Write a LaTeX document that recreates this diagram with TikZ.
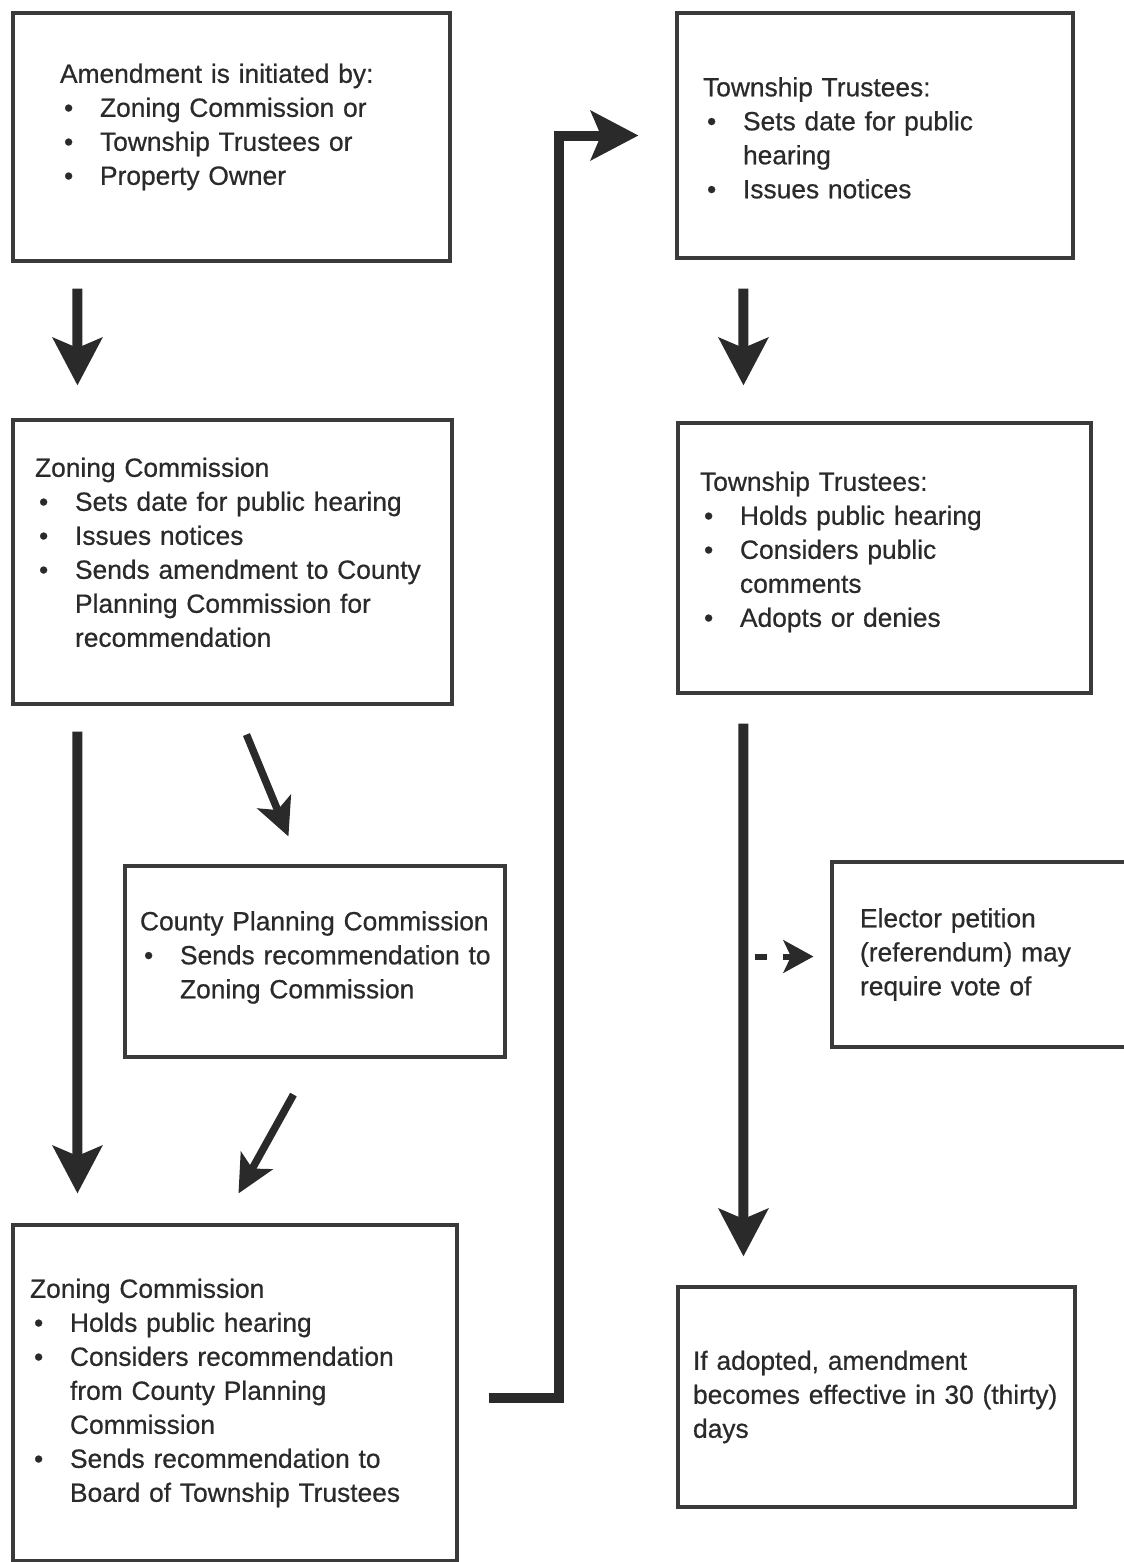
\documentclass[tikz,border=0pt]{standalone}
\usepackage{fontspec}
\setsansfont{Liberation Sans}[FakeBold=0.6]
\usepackage{xcolor}
\definecolor{inkColor}{HTML}{2A2A2A}
\definecolor{boxColor}{HTML}{3A3A3A}
\usepackage{tikz}
\usetikzlibrary{arrows.meta, positioning, calc}
\newcommand{\bulitem}{\hspace*{0.08cm}\makebox[0.72cm][l]{\textbullet}}
\newcommand{\bulind}{\hspace*{0.8cm}}
\newcommand{\liftby}[2]{\raisebox{#1}[\height][\depth]{#2}}

\begin{document}
\begin{tikzpicture}[x=0.02cm, y=-0.02cm, font=\sffamily\fontsize{15pt}{19.35pt}\selectfont,
    stagebox/.style={draw=boxColor, line width=1.8pt, align=left, text=inkColor},
    bigarrow/.style={-{Stealth[length=0.95cm, width=0.98cm, inset=0.2cm]}, line width=0.2cm, draw=inkColor},
    slantarrow/.style={-{Stealth[length=0.75cm, width=0.72cm, inset=0.18cm]}, line width=0.15cm, draw=inkColor},
    dasharrow/.style={-{Stealth[length=0.6cm, width=0.65cm, inset=0.15cm]}, line width=0.12cm, dash pattern=on 0.24cm off 0.32cm, draw=inkColor}]
        \useasboundingbox (0,0) rectangle (1124,1562);

        % Left column
        \node[stagebox, minimum width=8.74cm, minimum height=4.96cm, text width=6.86cm, inner xsep=0.94cm] (init) at (231.5,137) {\liftby{0.2cm}{\begin{tabular}{@{}l@{}}Amendment is initiated by:\\ \bulitem Zoning Commission or\\ \bulitem Township Trustees or\\ \bulitem Property Owner\end{tabular}}};
        \node[stagebox, minimum width=8.78cm, minimum height=5.68cm, text width=7.9cm, inner xsep=0.44cm] (zcone) at (232.5,562) {\liftby{0.14cm}{\begin{tabular}{@{}l@{}}Zoning Commission\\ \bulitem Sets date for public hearing\\ \bulitem Issues notices\\ \bulitem Sends amendment to County\\ \bulind Planning Commission for\\ \bulind recommendation\end{tabular}}};
        \node[stagebox, minimum width=7.6cm, minimum height=3.82cm, text width=7.0cm, inner xsep=0.3cm] (county) at (315,961.5) {\liftby{0.08cm}{\begin{tabular}{@{}l@{}}County Planning Commission\\ \bulitem Sends recommendation to\\ \bulind Zoning Commission\end{tabular}}};
        \node[stagebox, minimum width=8.88cm, minimum height=6.72cm, text width=8.2cm, inner xsep=0.34cm] (zctwo) at (235,1393) {\begin{tabular}{@{}l@{}}Zoning Commission\\ \bulitem Holds public hearing\\ \bulitem Considers recommendation\\ \bulind from County Planning\\ \bulind Commission\\ \bulitem Sends recommendation to\\ \bulind Board of Township Trustees\end{tabular}};

        % Right column
        \node[stagebox, minimum width=7.92cm, minimum height=4.9cm, text width=6.88cm, inner xsep=0.52cm] (ttone) at (875,135.5) {\liftby{-0.1cm}{\begin{tabular}{@{}l@{}}Township Trustees:\\ \bulitem Sets date for public\\ \bulind hearing\\ \bulitem Issues notices\end{tabular}}};
        \node[stagebox, minimum width=8.26cm, minimum height=5.4cm, text width=7.38cm, inner xsep=0.44cm] (tttwo) at (884.5,558) {\liftby{0.12cm}{\begin{tabular}{@{}l@{}}Township Trustees:\\ \bulitem Holds public hearing\\ \bulitem Considers public\\ \bulind comments\\ \bulitem Adopts or denies\end{tabular}}};
        \node[stagebox, minimum width=6.06cm, minimum height=3.7cm, text width=4.94cm, inner xsep=0.56cm] (petition) at (983.5,954.5) {\begin{tabular}{@{}l@{}}Elector petition\\ (referendum) may\\ require vote of\end{tabular}};
        \node[stagebox, minimum width=7.94cm, minimum height=4.4cm, text width=7.34cm, inner xsep=0.3cm] (effect) at (876.5,1397) {\begin{tabular}{@{}l@{}}If adopted, amendment\\ becomes effective in 30 (thirty)\\ days\end{tabular}};

        % Arrows
        \draw[bigarrow] ($(init.south west)+(66,26)$) -- ($(zcone.north west)+(66,-33)$);
        \draw[bigarrow] ($(zcone.south west)+(66,26)$) -- ($(zctwo.north west)+(66,-30)$);
        \draw[slantarrow] ($(zcone.south west)+(235,29)$) -- ($(county.north west)+(165,-28)$);
        \draw[slantarrow] ($(county.south west)+(170,36)$) -- ($(zctwo.north west)+(227,-30)$);
        \draw[bigarrow] ($(zctwo.east)+(30,5)$) -- ++(70,0) |- ($(ttone.west)+(-37,0)$);
        \draw[bigarrow] ($(ttone.south west)+(68,29)$) -- ($(tttwo.north west)+(67,-36)$);
        \draw[bigarrow] ($(tttwo.south west)+(67,29)$) -- ($(effect.north west)+(67,-29)$);
        \draw[dasharrow] ($(petition.west)+(-75,2)$) -- ($(petition.west)+(-17,2)$);
    \end{tikzpicture}
\end{document}
